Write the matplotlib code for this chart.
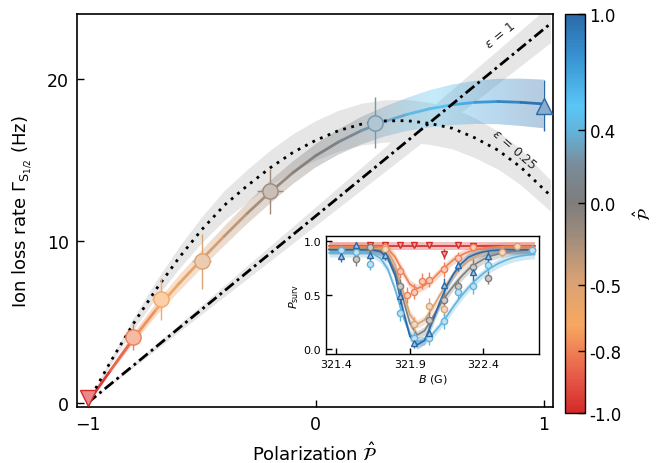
import numpy as np
import matplotlib
matplotlib.use("Agg")
import matplotlib.pyplot as plt
from matplotlib.colors import LinearSegmentedColormap, FuncNorm, to_rgb
from matplotlib.collections import LineCollection
from matplotlib.patches import Polygon
from matplotlib.cm import ScalarMappable

# --- polarization scan (main panel) ---
pts_P = [-1.0, -0.8, -0.68, -0.5, -0.2, 0.26, 1.0]
pts_P_err = [0.0, 0.03, 0.036, 0.04, 0.056, 0.025, 0.0]
pts_rate = [0.3, 4.05, 6.4, 8.75, 13.05, 17.3, 18.35]
pts_rate_err = [0.0, 0.8, 1.3, 1.7, 1.4, 1.55, 1.55]

# fitted loss rate with its uncertainty
fit_P = [-1.0, -0.9, -0.8, -0.7, -0.6, -0.5, -0.4, -0.3, -0.2, -0.1, 0.0,
         0.1, 0.2, 0.3, 0.4, 0.5, 0.6, 0.7, 0.8, 0.9, 1.0]
fit_rate = [0.0, 2.0, 3.95, 5.75, 7.35, 8.85, 10.3, 11.7, 13.0, 14.2, 15.25,
            16.1, 16.8, 17.35, 17.8, 18.15, 18.4, 18.55, 18.6, 18.55, 18.45]
fit_err = [0.0, 0.15, 0.3, 0.4, 0.5, 0.55, 0.6, 0.65, 0.7, 0.7, 0.72,
           0.78, 0.85, 0.92, 1.02, 1.15, 1.25, 1.33, 1.4, 1.46, 1.5]

# model curves for two values of epsilon
th_P = [-1.0, -0.9, -0.8, -0.7, -0.6, -0.5, -0.4, -0.3, -0.2, -0.1, 0.0,
        0.1, 0.2, 0.3, 0.4, 0.5, 0.6, 0.7, 0.8, 0.9, 1.0, 1.03]
eps025_rate = [0.0, 2.53, 4.87, 7.0, 8.94, 10.68, 12.2, 13.4, 14.5, 15.45, 16.2,
               16.8, 17.2, 17.4, 17.42, 17.25, 16.95, 16.35, 15.6, 14.55, 13.2, 12.8]
eps025_rel_err = 0.075
eps1_P = [-1.0, 1.03]
eps1_rate = [0.0, 23.4]
eps1_rel_err = 0.05

# --- survival spectra (inset), keyed by polarization ---
inset_B = [321.35, 321.40, 321.45, 321.50, 321.55, 321.60, 321.65, 321.70,
           321.75, 321.80, 321.85, 321.90, 321.95, 322.00, 322.05, 322.10,
           322.15, 322.20, 322.25, 322.30, 322.35, 322.40, 322.45, 322.50,
           322.55, 322.60, 322.65, 322.70, 322.75]
surv_fit = {
    -1.0: [0.955] * 29,
    -0.8: [0.95] * 8 + [0.93, 0.85, 0.72, 0.60, 0.56, 0.59, 0.64, 0.71, 0.77,
                        0.83, 0.87, 0.90, 0.92, 0.935, 0.94, 0.945, 0.95, 0.95,
                        0.95, 0.95, 0.95],
    -0.5: [0.93] * 8 + [0.90, 0.78, 0.55, 0.32, 0.23, 0.27, 0.37, 0.49, 0.60,
                        0.69, 0.76, 0.82, 0.86, 0.89, 0.905, 0.915, 0.92, 0.925,
                        0.93, 0.93, 0.93],
    0.0: [0.92] * 7 + [0.91, 0.86, 0.72, 0.48, 0.24, 0.13, 0.17, 0.28, 0.40,
                       0.50, 0.59, 0.67, 0.74, 0.79, 0.83, 0.86, 0.88, 0.895,
                       0.905, 0.91, 0.915, 0.92],
    0.4: [0.89] * 6 + [0.88, 0.84, 0.74, 0.55, 0.32, 0.14, 0.07, 0.08, 0.13,
                       0.21, 0.30, 0.40, 0.49, 0.57, 0.64, 0.70, 0.75, 0.79,
                       0.82, 0.845, 0.86, 0.87, 0.875],
    1.0: [0.92] * 6 + [0.915, 0.90, 0.84, 0.68, 0.38, 0.12, 0.04, 0.08, 0.24,
                       0.42, 0.58, 0.70, 0.79, 0.85, 0.88, 0.90, 0.91, 0.915,
                       0.92, 0.92, 0.92, 0.92, 0.92],
}
surv_band = 0.04

surv_B = {
    -1.0: [321.63, 321.73, 321.83, 321.93, 322.03, 322.13, 322.23, 322.33],
    -0.8: [321.73, 321.83, 321.88, 321.93, 321.98, 322.03, 322.13, 322.23, 322.33],
    -0.5: [321.73, 321.93, 322.03, 322.13, 322.53, 322.63, 322.73],
    0.0: [321.53, 321.63, 321.83, 322.03, 322.13, 322.23, 322.33, 322.43],
    0.4: [321.43, 321.53, 321.63, 321.83, 321.93, 322.03, 322.13, 322.23,
          322.33, 322.43, 322.73],
    1.0: [321.43, 321.53, 321.63, 321.73, 321.83, 321.93, 322.03, 322.13,
          322.23, 322.33, 322.43],
}
surv_val = {
    -1.0: [0.96, 0.96, 0.96, 0.96, 0.96, 0.88, 0.96, 0.95],
    -0.8: [0.94, 0.72, 0.50, 0.53, 0.63, 0.64, 0.74, 0.84, 0.94],
    -0.5: [0.93, 0.23, 0.40, 0.37, 0.90, 0.95, 0.92],
    0.0: [0.83, 0.94, 0.58, 0.27, 0.45, 0.58, 0.76, 0.66],
    0.4: [0.92, 0.90, 0.79, 0.33, 0.10, 0.10, 0.26, 0.53, 0.58, 0.78, 0.92],
    1.0: [0.86, 0.96, 0.87, 0.87, 0.49, 0.06, 0.15, 0.59, 0.78, 0.71, 0.86],
}
surv_err = {
    -1.0: [0.02, 0.02, 0.02, 0.02, 0.02, 0.05, 0.02, 0.02],
    -0.8: [0.03, 0.06, 0.07, 0.07, 0.07, 0.07, 0.07, 0.06, 0.03],
    -0.5: [0.03, 0.07, 0.07, 0.07, 0.05, 0.03, 0.04],
    0.0: [0.06, 0.04, 0.07, 0.07, 0.07, 0.07, 0.07, 0.06],
    0.4: [0.04, 0.05, 0.06, 0.07, 0.06, 0.06, 0.07, 0.07, 0.07, 0.06, 0.04],
    1.0: [0.05, 0.03, 0.05, 0.05, 0.07, 0.05, 0.06, 0.07, 0.06, 0.07, 0.05],
}

# --- colour scale for polarization ---
cbar_ticks = [-1.0, -0.8, -0.5, 0.0, 0.4, 1.0]
cbar_pos = [0.0, 0.155, 0.32, 0.525, 0.71, 1.0]
cbar_labels = ["-1.0", "-0.8", "-0.5", "0.0", "0.4", "1.0"]

norm = FuncNorm((lambda p: np.interp(p, cbar_ticks, cbar_pos),
                 lambda s: np.interp(s, cbar_pos, cbar_ticks)), vmin=-1, vmax=1)
cmap = LinearSegmentedColormap.from_list("pol", [
    (0.00, "#d42a2a"), (0.10, "#e8604a"), (0.22, "#f7a862"), (0.33, "#d9a274"),
    (0.45, "#9c8a7c"), (0.53, "#7d7d7d"), (0.62, "#7a8c99"), (0.71, "#62b4dc"),
    (0.77, "#5ac6f5"), (0.88, "#3b98d6"), (1.00, "#2a6aa8")])


def col(p):
    return cmap(norm(p))


def light(p, f=0.5):
    c = np.array(to_rgb(col(p)))
    return tuple(c * (1 - f) + f)


plt.rcParams["font.family"] = ["DejaVu Sans"]
plt.rcParams["mathtext.fontset"] = "dejavusans"

fig = plt.figure(figsize=(6.63, 4.64), dpi=100)
ax = fig.add_axes([0.1166, 0.1213, 0.717, 0.8464])
cax = fig.add_axes([0.8517, 0.108, 0.0302, 0.86])

# model bands and curves
th_P_a = np.array(th_P)
eps025 = np.array(eps025_rate)
ax.fill_between(th_P_a, eps025 * (1 - eps025_rel_err), eps025 * (1 + eps025_rel_err),
                color="#e6e6e6", lw=0, zorder=0)
eps1 = np.array(eps1_rate)
ax.fill_between(eps1_P, eps1 * (1 - eps1_rel_err), eps1 * (1 + eps1_rel_err),
                color="#e6e6e6", lw=0, zorder=0)
ax.plot(th_P, eps025_rate, color="k", lw=2, ls=(0, (1, 2)), zorder=3)
ax.plot(eps1_P, eps1_rate, color="k", lw=2, ls=(0, (4, 1.5, 1, 1.5)), zorder=3)

# fit band coloured along polarization
fx = np.array(fit_P)
fy = np.array(fit_rate)
fe = np.array(fit_err)
verts = np.vstack([np.column_stack([fx, fy - fe]),
                   np.column_stack([fx[::-1], (fy + fe)[::-1]])])
band = Polygon(verts, closed=True, facecolor="none", edgecolor="none")
ax.add_patch(band)
ramp = np.linspace(-1, 1, 400)[None, :]
im = ax.imshow(ramp, extent=(-1, 1, -1, 21), aspect="auto", origin="lower",
               cmap=cmap, norm=norm, alpha=0.35, zorder=1, interpolation="bilinear")
im.set_clip_path(band)

segs = np.stack([np.column_stack([fx[:-1], fy[:-1]]),
                 np.column_stack([fx[1:], fy[1:]])], axis=1)
mids = 0.5 * (fx[:-1] + fx[1:])
ax.add_collection(LineCollection(segs, colors=[col(m) for m in mids], lw=2,
                                 capstyle="round", zorder=2))

# measured points
for i, p in enumerate(pts_P):
    if p == -1.0:
        mk = "v"
    elif p == 1.0:
        mk = "^"
    else:
        mk = "o"
    ax.errorbar(p, pts_rate[i], yerr=pts_rate_err[i] or None,
                xerr=pts_P_err[i] or None, fmt=mk, ms=11, mfc=light(p, 0.45),
                mec=col(p), mew=1.0, ecolor=col(p), elinewidth=1.0, capsize=0,
                zorder=5, clip_on=False)

ax.text(0.81, 22.7, r"$\varepsilon\,=\,1$", rotation=39, fontsize=9,
        ha="center", va="center", color="#222222")
ax.text(0.87, 15.7, r"$\varepsilon\,=\,0.25$", rotation=-41, fontsize=9,
        ha="center", va="center", color="#222222")

ax.set_xlim(-1.045, 1.04)
ax.set_ylim(-0.23, 24.0)
ax.set_xticks([-1, 0, 1])
ax.set_yticks([0, 10, 20])
ax.tick_params(direction="in", length=5, width=1, labelsize=12.5, pad=6)
for s in ax.spines.values():
    s.set_linewidth(1.2)
ax.set_xlabel(r"Polarization $\hat{\mathcal{P}}$", fontsize=13, labelpad=6)
ax.set_ylabel(r"Ion loss rate $\Gamma_{\mathrm{S}_{1/2}}$ (Hz)", fontsize=13,
              labelpad=9)

# colorbar
sm = ScalarMappable(norm=norm, cmap=cmap)
cb = fig.colorbar(sm, cax=cax)
cb.set_ticks(cbar_ticks, labels=cbar_labels)
cb.ax.tick_params(direction="in", length=5, width=1, labelsize=12)
cb.outline.set_linewidth(1.0)
cb.set_label(r"$\hat{\mathcal{P}}$", fontsize=12, labelpad=8)
cb.ax.minorticks_off()

# inset: survival spectra
ins = fig.add_axes([0.492, 0.235, 0.321, 0.254])
for p in [-1.0, -0.8, -0.5, 0.0, 0.4, 1.0]:
    c = col(p)
    yf = np.array(surv_fit[p])
    ins.fill_between(inset_B, yf - surv_band, yf + surv_band, color=c,
                     alpha=0.3, lw=0, zorder=1)
    ins.plot(inset_B, yf, color=c, lw=1.2, zorder=2)
    mk = "v" if p == -1.0 else ("^" if p == 1.0 else "o")
    ins.errorbar(surv_B[p], surv_val[p], yerr=surv_err[p], fmt=mk, ms=4.5,
                 mfc=light(p, 0.6), mec=c, mew=1.0, ecolor=c, elinewidth=1.0,
                 capsize=0, zorder=3)

ins.set_xlim(321.33, 322.78)
ins.set_ylim(-0.045, 1.045)
ins.set_xticks([321.4, 321.9, 322.4])
ins.set_yticks([0.0, 0.5, 1.0])
ins.tick_params(direction="in", length=4, width=1, labelsize=8)
for s in ins.spines.values():
    s.set_linewidth(1.0)
ins.set_xlabel(r"$B$ (G)", fontsize=8, labelpad=2)
ins.set_ylabel(r"$P_{\mathrm{surv}}$", fontsize=8, labelpad=2)

fig.savefig("out.png", dpi=100)
